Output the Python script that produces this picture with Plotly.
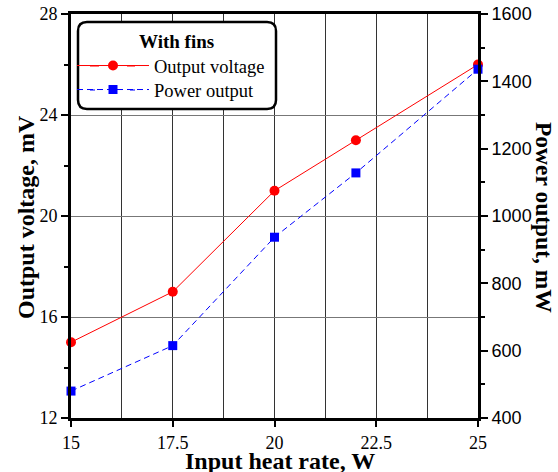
import plotly.graph_objects as go

heat_rate = [15, 17.5, 20, 22, 25]
voltage_mv = [15, 17, 21, 23, 26]
power_mw = [480, 615, 937, 1128, 1436]

x_ticks = [15, 17.5, 20, 22.5, 25]
x_tick_text = ["15", "17.5", "20", "22.5", "25"]

serif = "Liberation Serif"
sans = "Liberation Sans"

# paper-coordinate helpers (plot area: x 71..478 px, y 14..418 px)
def px(x):
    return (x - 71) / 407.0

def py(y):
    return (418 - y) / 404.0

fig = go.Figure()
fig.add_trace(go.Scatter(
    x=heat_rate, y=voltage_mv, name="Output voltage", mode="lines+markers",
    line=dict(color="#ff0000", width=1),
    marker=dict(symbol="circle", size=10, color="#ff0000"),
    cliponaxis=False, yaxis="y", legend="legend"))
fig.add_trace(go.Scatter(
    x=heat_rate, y=power_mw, name="Power output", mode="lines+markers",
    line=dict(color="#0000ff", width=1, dash="6px,4px"),
    marker=dict(symbol="square", size=9, color="#0000ff"),
    cliponaxis=False, yaxis="y2", legend="legend2"))

# rounded legend box
x0, x1, y0, y1 = px(78), px(276), py(109), py(22)
rx, ry = 0.022, 0.022
path = (f"M {x0+rx},{y0} L {x1-rx},{y0} Q {x1},{y0} {x1},{y0+ry} "
        f"L {x1},{y1-ry} Q {x1},{y1} {x1-rx},{y1} "
        f"L {x0+rx},{y1} Q {x0},{y1} {x0},{y1-ry} "
        f"L {x0},{y0+ry} Q {x0},{y0} {x0+rx},{y0} Z")
fig.add_shape(type="path", path=path, xref="paper", yref="paper",
              line=dict(color="black", width=2.5), fillcolor="white", layer="above")
# extend legend sample lines to match the reference's longer samples
fig.add_shape(type="line", xref="paper", yref="paper", x0=px(90), x1=px(99), y0=py(66), y1=py(66),
              line=dict(color="#ff0000", width=1), layer="above")
fig.add_shape(type="line", xref="paper", yref="paper", x0=px(127), x1=px(135), y0=py(66), y1=py(66),
              line=dict(color="#ff0000", width=1), layer="above")
fig.add_shape(type="line", xref="paper", yref="paper", x0=px(90), x1=px(95), y0=py(90), y1=py(90),
              line=dict(color="#0000ff", width=1), layer="above")
fig.add_shape(type="line", xref="paper", yref="paper", x0=px(130), x1=px(135), y0=py(90), y1=py(90),
              line=dict(color="#0000ff", width=1), layer="above")

fig.add_annotation(text="<b>With fins</b>", xref="paper", yref="paper",
                   x=px(176.5), y=py(42), showarrow=False, xanchor="center", yanchor="middle",
                   font=dict(family=serif, size=19, color="black"))

fig.add_annotation(text="<b>Power output, mW</b>", textangle=90, xref="paper", yref="paper",
                   x=px(544), y=py(217), showarrow=False, xanchor="center", yanchor="middle",
                   font=dict(family=serif, size=23.5, color="black"))
fig.add_annotation(text="<b>Output voltage, mV</b>", textangle=-90, xref="paper", yref="paper",
                   x=px(26), y=py(217), showarrow=False, xanchor="center", yanchor="middle",
                   font=dict(family=serif, size=24, color="black"))
fig.add_annotation(text="<b>Input heat rate, W</b>", xref="paper", yref="paper",
                   x=px(279.5), y=py(461), showarrow=False, xanchor="center", yanchor="middle",
                   font=dict(family=serif, size=24, color="black"))

legend_common = dict(xanchor="left", yanchor="middle", bgcolor="rgba(0,0,0,0)", borderwidth=0,
                     font=dict(family=serif, size=18.5, color="black"), itemwidth=72)

tick_serif = dict(family=serif, size=18, color="black")
fig.update_layout(
    width=558, height=472,
    margin=dict(l=71, r=80, t=14, b=54),
    paper_bgcolor="white", plot_bgcolor="white",
    showlegend=True,
    legend=dict(x=px(72), y=py(66), **legend_common),
    legend2=dict(x=px(72), y=py(90), **legend_common),
    xaxis=dict(range=[15, 25], tickvals=x_ticks, ticktext=x_tick_text, automargin=False,
               showline=True, linecolor="black", linewidth=3, mirror=True,
               ticks="outside", ticklen=6, tickwidth=2, tickcolor="black",
               showgrid=True, gridcolor="#333333", gridwidth=1,
               minor=dict(dtick=1.25, tick0=15, showgrid=True, gridcolor="#333333", gridwidth=1, ticks=""),
               zeroline=False, tickfont=tick_serif),
    yaxis=dict(range=[12, 28], dtick=4, tick0=12, automargin=False,
               showline=True, linecolor="black", linewidth=3,
               ticks="outside", ticklen=7, tickwidth=2, tickcolor="black",
               showgrid=True, gridcolor="#777777", gridwidth=1, zeroline=False,
               minor=dict(dtick=2, tick0=12, ticks="outside", ticklen=4, tickwidth=2, tickcolor="black", showgrid=False),
               tickfont=tick_serif),
    yaxis2=dict(range=[400, 1600], dtick=200, tick0=400, overlaying="y", side="right", automargin=False,
                showline=True, linecolor="black", linewidth=3,
                ticks="outside", ticklen=7, tickwidth=2, tickcolor="black",
                showgrid=False, zeroline=False,
                minor=dict(dtick=100, tick0=400, ticks="outside", ticklen=4, tickwidth=2, tickcolor="black", showgrid=False),
                tickfont=dict(family=sans, size=18, color="black")),
)

fig.write_html("out.html")
